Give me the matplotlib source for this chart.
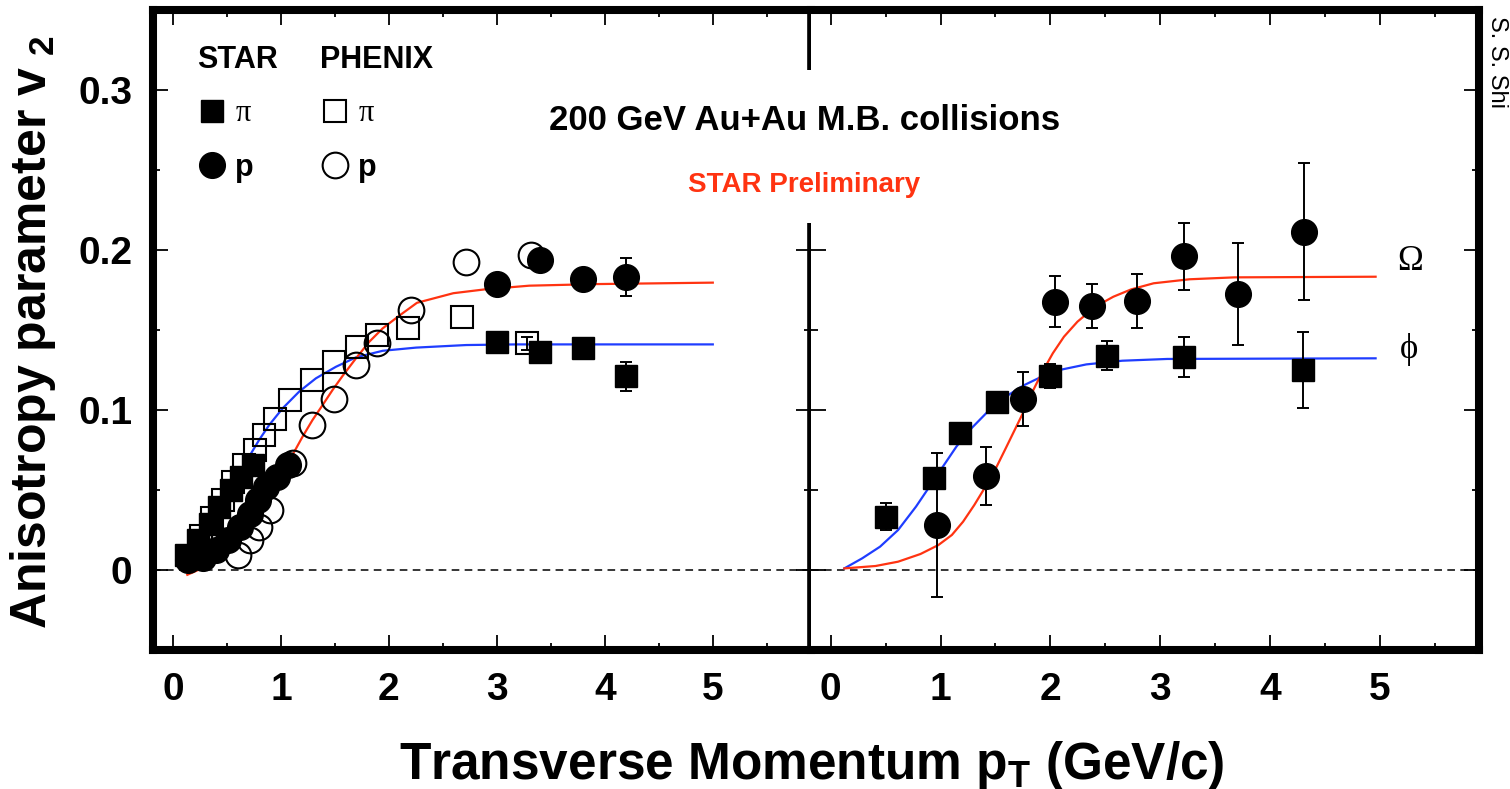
import matplotlib
matplotlib.use('Agg')
import matplotlib.pyplot as plt
from matplotlib.ticker import MultipleLocator, FixedLocator

plt.rcParams['font.family'] = ['Liberation Sans', 'DejaVu Sans']
plt.rcParams['font.weight'] = 'bold'

# ---- left panel: pions and protons ----
star_pi_pt = [0.12, 0.23, 0.34, 0.43, 0.54, 0.63, 0.74, 3.0, 3.4, 3.8, 4.2]
star_pi_v2 = [0.0094, 0.0188, 0.029, 0.0396, 0.05, 0.0583, 0.0656, 0.1427, 0.1365, 0.1385, 0.121]
star_pi_err = [0, 0, 0, 0, 0, 0, 0, 0, 0, 0, 0.009]

star_p_pt = [0.14, 0.28, 0.40, 0.51, 0.62, 0.71, 0.79, 0.865, 0.96, 1.065, 3.0, 3.4, 3.8, 4.2]
star_p_v2 = [0.006, 0.0073, 0.0125, 0.019, 0.027, 0.035, 0.044, 0.052, 0.058, 0.0656, 0.179, 0.194, 0.182, 0.183]
star_p_err = [0] * 13 + [0.012]

phenix_pi_pt = [0.26, 0.36, 0.46, 0.555, 0.66, 0.76, 0.845, 0.946, 1.086, 1.29, 1.49, 1.70, 1.89, 2.18, 2.68, 3.28]
phenix_pi_v2 = [0.0213, 0.0327, 0.0438, 0.0548, 0.0656, 0.075, 0.0844, 0.0944, 0.106, 0.119, 0.130, 0.1396, 0.1469, 0.151, 0.158, 0.1417]
phenix_pi_err = [0] * 15 + [0.004]

phenix_p_pt = [0.60, 0.71, 0.80, 0.895, 1.11, 1.29, 1.49, 1.695, 1.89, 2.205, 2.71, 3.32]
phenix_p_v2 = [0.0094, 0.019, 0.027, 0.0375, 0.067, 0.0906, 0.107, 0.128, 0.142, 0.1625, 0.1927, 0.197]

# fit curves
pi_fit_pt = [0.13, 0.25, 0.4, 0.55, 0.705, 0.798, 0.891, 1.015, 1.169, 1.324, 1.509, 1.695,
             1.942, 2.252, 2.716, 3.18, 5.0]
pi_fit_v2 = [0.0, 0.015, 0.035, 0.054, 0.0708, 0.0813, 0.0906, 0.101, 0.1115, 0.1198, 0.127,
             0.1329, 0.137, 0.139, 0.1406, 0.141, 0.141]
p_fit_pt = [0.133, 0.3, 0.5, 0.7, 0.9, 1.0, 1.107, 1.2, 1.293, 1.386, 1.478, 1.571, 1.695,
            1.819, 1.942, 2.097, 2.26, 2.597, 2.89, 3.30, 3.92, 5.0]
p_fit_v2 = [-0.003, 0.002, 0.012, 0.028, 0.05, 0.061, 0.0719, 0.0833, 0.0938, 0.1031, 0.1125,
            0.1213, 0.1323, 0.1427, 0.151, 0.159, 0.167, 0.173, 0.1754, 0.1777, 0.1787, 0.1796]

# ---- right panel: phi and Omega ----
phi_pt = [0.50, 0.94, 1.18, 1.51, 2.0, 2.52, 3.22, 4.30]
phi_v2 = [0.0333, 0.0573, 0.0854, 0.105, 0.121, 0.134, 0.133, 0.125]
phi_err = [0.0085, 0.0, 0.0, 0.0, 0.0075, 0.009, 0.0125, 0.024]

omega_pt = [0.97, 1.41, 1.75, 2.04, 2.38, 2.79, 3.22, 3.71, 4.31]
omega_v2 = [0.028, 0.0588, 0.1067, 0.1677, 0.165, 0.168, 0.196, 0.1725, 0.2115]
omega_err = [0.045, 0.018, 0.017, 0.016, 0.014, 0.017, 0.021, 0.032, 0.043]

phi_fit_pt = [0.123, 0.286, 0.449, 0.613, 0.776, 0.899, 1.021, 1.144, 1.266, 1.43, 1.593,
              1.757, 1.92, 2.083, 2.328, 2.655, 3.064, 4.963]
phi_fit_v2 = [0.001, 0.0073, 0.0146, 0.025, 0.0396, 0.0521, 0.0646, 0.0771, 0.0875, 0.099,
              0.1083, 0.1154, 0.1208, 0.125, 0.1285, 0.1308, 0.1319, 0.1323]
omega_fit_pt = [0.123, 0.408, 0.613, 0.817, 0.98, 1.103, 1.205, 1.307, 1.409, 1.511, 1.593,
                1.675, 1.757, 1.838, 1.92, 2.022, 2.124, 2.247, 2.41, 2.574, 2.737, 2.941,
                3.268, 3.676, 4.963]
omega_fit_v2 = [0.001, 0.0025, 0.0052, 0.010, 0.0156, 0.0219, 0.0302, 0.0406, 0.0521, 0.0646,
                0.076, 0.0875, 0.099, 0.1115, 0.1229, 0.1354, 0.1458, 0.1552, 0.1646, 0.1708,
                0.1754, 0.1792, 0.1817, 0.1829, 0.1833]

BLUE = '#1f3dff'
RED = '#ff3311'
W, H = 1510, 789

fig = plt.figure(figsize=(W / 100, H / 100), dpi=100)
axL = fig.add_axes([153 / W, 1 - 650 / H, 657.5 / W, 640 / H])
axR = fig.add_axes([810.5 / W, 1 - 650 / H, 668.5 / W, 640 / H])

SQ = 16
CI = 18.5


def error_bars(ax, x, y, err, z):
    keep = [i for i, e in enumerate(err) if e > 0]
    ax.errorbar([x[i] for i in keep], [y[i] for i in keep],
                yerr=[err[i] for i in keep], fmt='none', ecolor='k',
                elinewidth=1.4, capsize=4, capthick=1.4, zorder=z)


# left panel
axL.plot(pi_fit_pt, pi_fit_v2, color=BLUE, lw=1.6, zorder=1)
axL.plot(p_fit_pt, p_fit_v2, color=RED, lw=1.6, zorder=1)
error_bars(axL, phenix_pi_pt, phenix_pi_v2, phenix_pi_err, 2)
h_ppi, = axL.plot(phenix_pi_pt, phenix_pi_v2, 's', ms=SQ, mfc='none', mec='k', mew=1.5, zorder=2)
h_pp, = axL.plot(phenix_p_pt, phenix_p_v2, 'o', ms=CI, mfc='none', mec='k', mew=1.5, zorder=2)
error_bars(axL, star_pi_pt, star_pi_v2, star_pi_err, 3)
error_bars(axL, star_p_pt, star_p_v2, star_p_err, 3)
h_spi, = axL.plot(star_pi_pt, star_pi_v2, 's', ms=SQ, color='k', zorder=3)
h_sp, = axL.plot(star_p_pt, star_p_v2, 'o', ms=CI, color='k', zorder=3)

# right panel
axR.plot(phi_fit_pt, phi_fit_v2, color=BLUE, lw=1.6, zorder=1)
axR.plot(omega_fit_pt, omega_fit_v2, color=RED, lw=1.6, zorder=1)
error_bars(axR, phi_pt, phi_v2, phi_err, 3)
error_bars(axR, omega_pt, omega_v2, omega_err, 3)
axR.plot(phi_pt, phi_v2, 's', ms=SQ, color='k', zorder=3)
axR.plot(omega_pt, omega_v2, 'o', ms=CI, color='k', zorder=3)

for ax in (axL, axR):
    ax.axhline(0, color='k', lw=1.1, ls='--', dashes=(5, 3.5), zorder=0)
    ax.set_xlim(-0.185, 5.905)
    ax.set_ylim(-0.05, 0.35)
    ax.xaxis.set_major_locator(MultipleLocator(1))
    ax.xaxis.set_minor_locator(MultipleLocator(0.5))
    ax.yaxis.set_major_locator(MultipleLocator(0.1))
    ax.yaxis.set_minor_locator(MultipleLocator(0.05))
    ax.tick_params(which='both', direction='in', top=True, width=1.3,
                   labelsize=28, pad=16)
    ax.tick_params(which='major', length=11)
    ax.tick_params(which='minor', length=5)
    for s in ax.spines.values():
        s.set_linewidth(5.8)
        s.set_capstyle('projecting')

axL.spines['right'].set_visible(False)
axR.spines['left'].set_visible(False)
axL.tick_params(axis='y', which='both', right=False, pad=15)
axR.tick_params(axis='y', which='both', left=False, right=True, labelleft=False)
axL.set_yticks([0, 0.1, 0.2, 0.3], ['0', '0.1', '0.2', '0.3'])

# ticks along the middle divider only below the gap
for ax, side in ((axL, 'right'), (axR, 'left')):
    sec = ax.secondary_yaxis(side)
    sec.yaxis.set_major_locator(FixedLocator([0, 0.1, 0.2]))
    sec.yaxis.set_minor_locator(FixedLocator([0.05, 0.15]))
    sec.tick_params(which='both', direction='in', width=1.3, labelleft=False,
                    labelright=False)
    sec.tick_params(which='major', length=11)
    sec.tick_params(which='minor', length=5)
    sec.spines[side].set_visible(False)

# middle divider with a gap for the title text
axL.axvline(axL.get_xlim()[1], ymin=0, ymax=0.667, color='k', lw=5.5,
            clip_on=False, solid_capstyle='butt', zorder=5)
axL.axvline(axL.get_xlim()[1], ymin=0.906, ymax=1, color='k', lw=5.5,
            clip_on=False, solid_capstyle='butt', zorder=5)

# legends
leg_kw = dict(loc='upper left', frameon=False, borderpad=0, borderaxespad=0,
              handlelength=1.0, handletextpad=0.25, labelspacing=0.8,
              numpoints=1, prop=dict(size=22, weight='bold'),
              title_fontproperties=dict(size=22, weight='bold'),
              alignment='left', bbox_transform=fig.transFigure)
leg1 = axL.legend([h_spi, h_sp], ['π', 'p'], title='STAR',
                  bbox_to_anchor=(197 / W, 1 - 45 / H), **leg_kw)
axL.add_artist(leg1)
leg2 = axL.legend([h_ppi, h_pp], ['π', 'p'], title='PHENIX',
                  bbox_to_anchor=(320 / W, 1 - 45 / H), **leg_kw)
for leg in (leg1, leg2):
    for t in leg.get_texts():
        if t.get_text() == 'π':
            t.set_fontfamily(['Liberation Serif', 'DejaVu Serif'])
            t.set_fontweight('normal')

fig.text(549 / W, 1 - 130 / H, '200 GeV Au+Au M.B. collisions', fontsize=25,
         ha='left', va='baseline')
fig.text(688 / W, 1 - 192 / H, 'STAR Preliminary', fontsize=20, color=RED,
         ha='left', va='baseline')

axR.text(5.28, 0.193, 'Ω', fontsize=25, fontweight='normal',
         family=['Liberation Serif', 'DejaVu Serif'], ha='center', va='center')
axR.text(5.27, 0.1375, 'ϕ', fontsize=25, fontweight='normal',
         family=['Liberation Serif', 'DejaVu Serif'], ha='center', va='center')

fig.text(33 / W, 1 - 332 / H, r'Anisotropy parameter v$_\mathregular{\ 2}$',
         fontsize=36, rotation=90, ha='center', va='center')
fig.text(812 / W, 1 - 765 / H, r'Transverse Momentum p$_\mathregular{T}$ (GeV/c)',
         fontsize=37, ha='center', va='center')
fig.text(1497 / W, 1 - 62 / H, 'S. S. Shi', fontsize=17, fontweight='normal',
         rotation=-90, ha='center', va='center')

fig.savefig('out.png', dpi=100)
